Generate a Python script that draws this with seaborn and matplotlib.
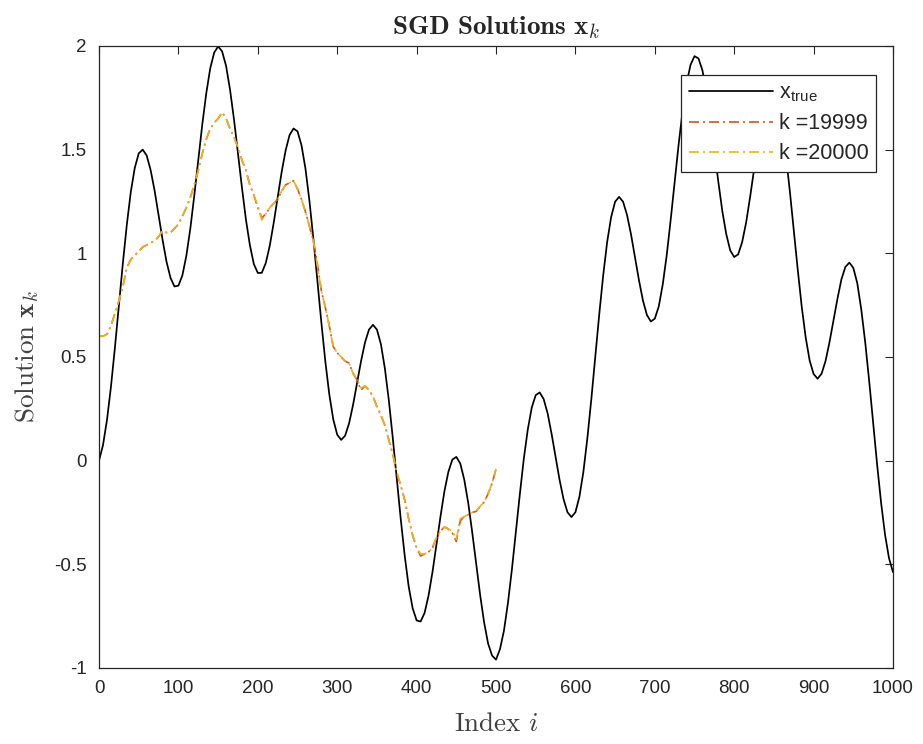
import numpy as np
import pandas as pd
import matplotlib
matplotlib.use("Agg")
import matplotlib.pyplot as plt
import seaborn as sns

# ---------------- data ----------------
true_index = np.arange(0, 1001, 5)
x_true = [
    0.000, 0.075, 0.196, 0.356, 0.545, 0.748, 0.952, 1.138, 1.296, 1.412,
    1.482, 1.500, 1.472, 1.401, 1.302, 1.184, 1.066, 0.959, 0.882, 0.840,
    0.844, 0.894, 0.989, 1.120, 1.280, 1.450, 1.620, 1.770, 1.891, 1.968,
    1.998, 1.974, 1.904, 1.789, 1.645, 1.481, 1.317, 1.163, 1.039, 0.948,
    0.905, 0.906, 0.953, 1.036, 1.147, 1.270, 1.392, 1.496, 1.571, 1.602,
    1.588, 1.521, 1.408, 1.253, 1.069, 0.868, 0.667, 0.479, 0.320, 0.199,
    0.125, 0.100, 0.121, 0.181, 0.270, 0.375, 0.480, 0.570, 0.632, 0.655,
    0.632, 0.562, 0.445, 0.291, 0.108, -0.087, -0.282, -0.459, -0.607, -0.712,
    -0.771, -0.776, -0.735, -0.651, -0.537, -0.404, -0.271, -0.148, -0.054, 0.005,
    0.018, -0.014, -0.092, -0.204, -0.345, -0.497, -0.648, -0.780, -0.882, -0.940,
    -0.960, -0.909, -0.820, -0.687, -0.525, -0.343, -0.162, 0.009, 0.150, 0.256,
    0.316, 0.329, 0.297, 0.228, 0.129, 0.019, -0.092, -0.185, -0.249, -0.272,
    -0.249, -0.175, -0.055, 0.106, 0.295, 0.500, 0.705, 0.894, 1.055, 1.175,
    1.249, 1.272, 1.249, 1.185, 1.092, 0.981, 0.871, 0.773, 0.703, 0.671,
    0.685, 0.744, 0.850, 0.991, 1.162, 1.343, 1.525, 1.687, 1.820, 1.909,
    1.951, 1.940, 1.882, 1.780, 1.648, 1.497, 1.345, 1.204, 1.092, 1.014,
    0.982, 0.995, 1.054, 1.148, 1.271, 1.404, 1.537, 1.651, 1.735, 1.776,
    1.771, 1.717, 1.617, 1.474, 1.302, 1.112, 0.922, 0.744, 0.595, 0.483,
    0.418, 0.395, 0.419, 0.480, 0.571, 0.675, 0.780, 0.874, 0.934, 0.955,
    0.930, 0.856, 0.730, 0.571, 0.384, 0.182, -0.019, -0.203, -0.358, -0.471,
    -0.538,
]

sgd_index = np.arange(0, 501, 5)
x_k20000 = [
    0.60, 0.60, 0.61, 0.65, 0.71, 0.77, 0.84, 0.93, 0.97, 0.99,
    1.01, 1.03, 1.04, 1.05, 1.06, 1.08, 1.11, 1.10, 1.10, 1.12,
    1.14, 1.18, 1.22, 1.27, 1.33, 1.40, 1.48, 1.55, 1.60, 1.63,
    1.65, 1.68, 1.65, 1.60, 1.56, 1.51, 1.45, 1.40, 1.33, 1.28,
    1.23, 1.16, 1.19, 1.22, 1.24, 1.26, 1.30, 1.33, 1.34, 1.35,
    1.31, 1.26, 1.20, 1.13, 1.06, 0.94, 0.82, 0.74, 0.65, 0.55,
    0.52, 0.50, 0.48, 0.47, 0.42, 0.39, 0.35, 0.36, 0.34, 0.31,
    0.26, 0.22, 0.17, 0.10, 0.03, -0.05, -0.12, -0.19, -0.28, -0.36,
    -0.42, -0.45, -0.45, -0.44, -0.42, -0.37, -0.34, -0.32, -0.33, -0.34,
    -0.38, -0.28, -0.27, -0.26, -0.25, -0.245, -0.22, -0.20, -0.16, -0.11,
    -0.04,
]
x_k19999 = [
    0.60, 0.60, 0.61, 0.65, 0.71, 0.77, 0.84, 0.93, 0.97, 0.99,
    1.01, 1.03, 1.04, 1.05, 1.06, 1.08, 1.11, 1.10, 1.10, 1.12,
    1.14, 1.18, 1.22, 1.27, 1.33, 1.40, 1.48, 1.55, 1.60, 1.63,
    1.65, 1.68, 1.65, 1.60, 1.56, 1.51, 1.45, 1.40, 1.33, 1.28,
    1.22, 1.17, 1.19, 1.22, 1.24, 1.26, 1.30, 1.33, 1.34, 1.35,
    1.31, 1.26, 1.20, 1.13, 1.06, 0.95, 0.82, 0.74, 0.65, 0.55,
    0.52, 0.50, 0.48, 0.47, 0.42, 0.39, 0.34, 0.36, 0.34, 0.31,
    0.26, 0.22, 0.17, 0.10, 0.03, -0.06, -0.12, -0.19, -0.28, -0.36,
    -0.42, -0.46, -0.45, -0.44, -0.42, -0.37, -0.34, -0.32, -0.33, -0.35,
    -0.39, -0.29, -0.27, -0.26, -0.25, -0.245, -0.22, -0.20, -0.16, -0.11,
    -0.04,
]

x_ticks = [0, 100, 200, 300, 400, 500, 600, 700, 800, 900, 1000]
x_tick_labels = ["0", "100", "200", "300", "400", "500", "600", "700", "800", "900", "1000"]
y_ticks = [-1, -0.5, 0, 0.5, 1, 1.5, 2]
y_tick_labels = ["-1", "-0.5", "0", "0.5", "1", "1.5", "2"]

df_true = pd.DataFrame({"i": true_index, "v": x_true})
df_a = pd.DataFrame({"i": sgd_index, "v": x_k19999})
df_b = pd.DataFrame({"i": sgd_index, "v": x_k20000})

# ---------------- style ----------------
sns.set_style("white")
plt.rcParams["font.family"] = ["Liberation Sans", "DejaVu Sans"]
plt.rcParams["mathtext.fontset"] = "cm"
plt.rcParams["axes.unicode_minus"] = False

fig = plt.figure(figsize=(9.23, 7.44), dpi=100)
ax = fig.add_axes([0.1073, 0.1022, 0.8602, 0.8360])

dashdot = (0, (6.0, 2.4, 1.2, 2.4))
sns.lineplot(data=df_true, x="i", y="v", ax=ax, color="black", linewidth=1.25,
             label=r"x$_{\mathregular{true}}$", sort=False, estimator=None)
sns.lineplot(data=df_a, x="i", y="v", ax=ax, color="#D95319", linewidth=1.2,
             linestyle=dashdot, label="k =19999", sort=False, estimator=None)
sns.lineplot(data=df_b, x="i", y="v", ax=ax, color="#EDB120", linewidth=1.2,
             linestyle=dashdot, label="k =20000", sort=False, estimator=None)

ax.set_xlim(0, 1000)
ax.set_ylim(-1, 2)
ax.set_xticks(x_ticks)
ax.set_xticklabels(x_tick_labels)
ax.set_yticks(y_ticks)
ax.set_yticklabels(y_tick_labels)
ax.tick_params(direction="in", length=6, width=0.8, top=True, right=True,
               labelsize=13.5, colors="#262626", pad=9)
for s in ax.spines.values():
    s.set_visible(True)
    s.set_color("#262626")
    s.set_linewidth(0.9)

ax.set_title(r"$\mathbf{SGD\ Solutions\ x}_k$", fontsize=19.5, pad=8, color="#262626")
ax.set_xlabel(r"$\mathrm{Index}\ i$", fontsize=19.5, color="#404040", labelpad=10)
ax.set_ylabel(r"$\mathrm{Solution}\ \mathbf{x}_k$", fontsize=19.5, color="#404040", labelpad=9)

leg = ax.legend(loc="upper right", bbox_to_anchor=(0.979, 0.953), fontsize=15.5,
                handlelength=3.9, handletextpad=0.3, labelspacing=0.42,
                borderpad=0.35, borderaxespad=0.0, fancybox=False, framealpha=1.0,
                edgecolor="#262626")
leg.get_frame().set_linewidth(0.9)

fig.savefig("out.png", dpi=100)
